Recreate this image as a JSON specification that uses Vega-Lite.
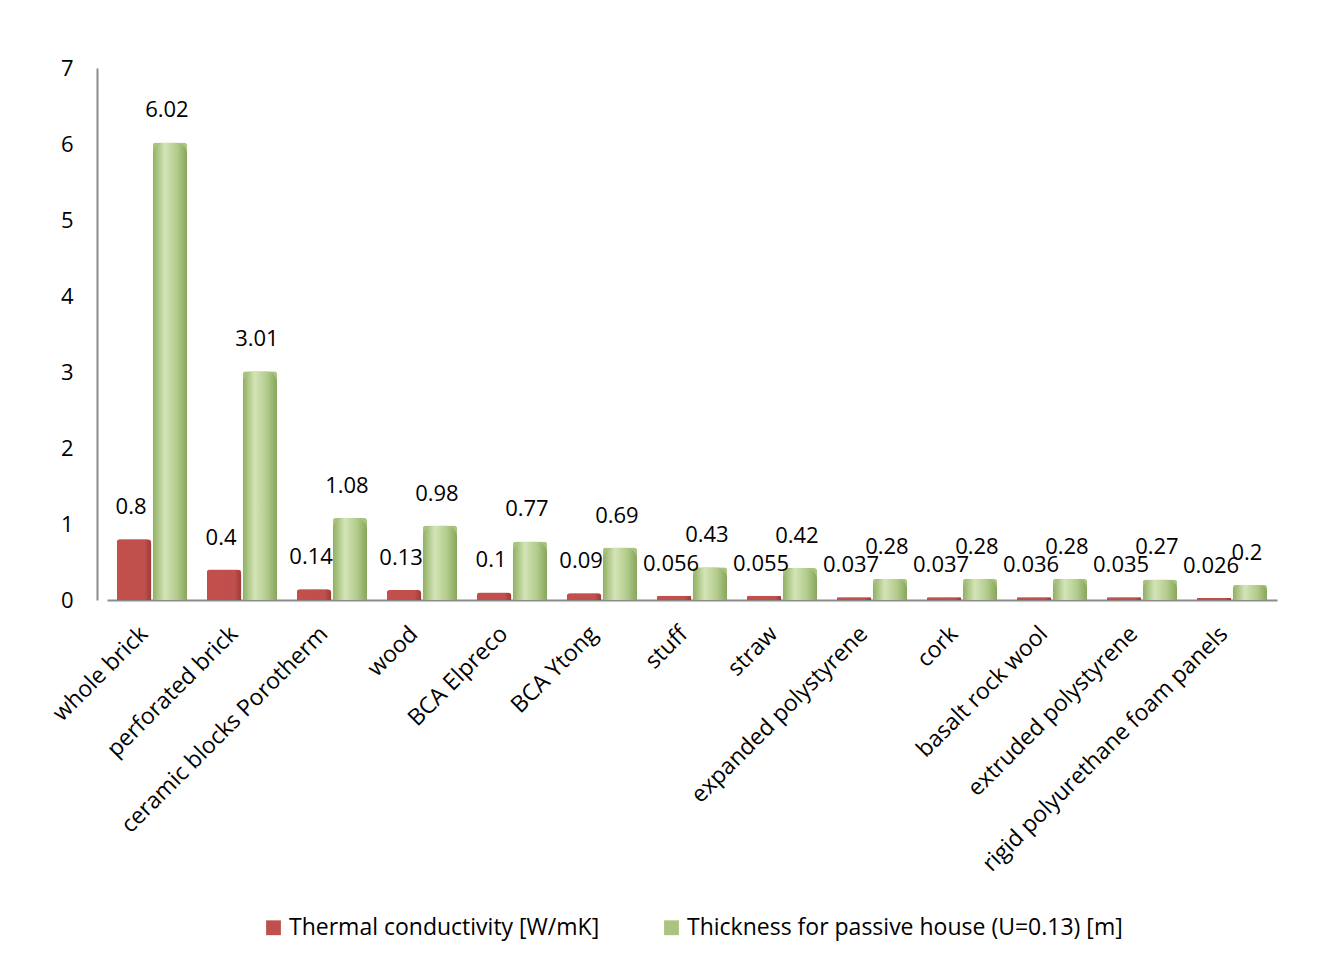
{
  "$schema": "https://vega.github.io/schema/vega-lite/v6.json",
  "width": 1170,
  "height": 532,
  "autosize": {"type": "none"},
  "padding": {"left": 107, "top": 68, "right": 62, "bottom": 362},
  "background": "white",
  "config": {
    "view": {"stroke": null},
    "font": "Open Sans",
    "axis": {"labelFont": "Open Sans", "labelColor": "#000000", "labelFontSize": 22, "grid": false, "ticks": false, "domainColor": "#8c8c8c", "domainWidth": 2, "labelLimit": 0},
    "legend": {"labelFont": "Open Sans", "labelFontSize": 23, "labelColor": "#000000", "labelLimit": 0, "layout": {"bottom": {"anchor": "middle"}}}
  },
  "data": {
    "values": [
      {"material": "whole brick", "series": "Thermal conductivity [W/mK]", "value": 0.8, "label": "0.8"},
      {"material": "whole brick", "series": "Thickness for passive house (U=0.13) [m]", "value": 6.02, "label": "6.02"},
      {"material": "perforated brick", "series": "Thermal conductivity [W/mK]", "value": 0.4, "label": "0.4"},
      {"material": "perforated brick", "series": "Thickness for passive house (U=0.13) [m]", "value": 3.01, "label": "3.01"},
      {"material": "ceramic blocks Porotherm", "series": "Thermal conductivity [W/mK]", "value": 0.14, "label": "0.14"},
      {"material": "ceramic blocks Porotherm", "series": "Thickness for passive house (U=0.13) [m]", "value": 1.08, "label": "1.08"},
      {"material": "wood", "series": "Thermal conductivity [W/mK]", "value": 0.13, "label": "0.13"},
      {"material": "wood", "series": "Thickness for passive house (U=0.13) [m]", "value": 0.98, "label": "0.98"},
      {"material": "BCA Elpreco", "series": "Thermal conductivity [W/mK]", "value": 0.1, "label": "0.1"},
      {"material": "BCA Elpreco", "series": "Thickness for passive house (U=0.13) [m]", "value": 0.77, "label": "0.77"},
      {"material": "BCA Ytong", "series": "Thermal conductivity [W/mK]", "value": 0.09, "label": "0.09"},
      {"material": "BCA Ytong", "series": "Thickness for passive house (U=0.13) [m]", "value": 0.69, "label": "0.69"},
      {"material": "stuff", "series": "Thermal conductivity [W/mK]", "value": 0.056, "label": "0.056"},
      {"material": "stuff", "series": "Thickness for passive house (U=0.13) [m]", "value": 0.43, "label": "0.43"},
      {"material": "straw", "series": "Thermal conductivity [W/mK]", "value": 0.055, "label": "0.055"},
      {"material": "straw", "series": "Thickness for passive house (U=0.13) [m]", "value": 0.42, "label": "0.42"},
      {"material": "expanded polystyrene", "series": "Thermal conductivity [W/mK]", "value": 0.037, "label": "0.037"},
      {"material": "expanded polystyrene", "series": "Thickness for passive house (U=0.13) [m]", "value": 0.28, "label": "0.28"},
      {"material": "cork", "series": "Thermal conductivity [W/mK]", "value": 0.037, "label": "0.037"},
      {"material": "cork", "series": "Thickness for passive house (U=0.13) [m]", "value": 0.28, "label": "0.28"},
      {"material": "basalt rock wool", "series": "Thermal conductivity [W/mK]", "value": 0.036, "label": "0.036"},
      {"material": "basalt rock wool", "series": "Thickness for passive house (U=0.13) [m]", "value": 0.28, "label": "0.28"},
      {"material": "extruded polystyrene", "series": "Thermal conductivity [W/mK]", "value": 0.035, "label": "0.035"},
      {"material": "extruded polystyrene", "series": "Thickness for passive house (U=0.13) [m]", "value": 0.27, "label": "0.27"},
      {"material": "rigid polyurethane foam panels", "series": "Thermal conductivity [W/mK]", "value": 0.026, "label": "0.026"},
      {"material": "rigid polyurethane foam panels", "series": "Thickness for passive house (U=0.13) [m]", "value": 0.2, "label": "0.2"}
    ]
  },
  "encoding": {
    "x": {
      "field": "material", "type": "nominal", "sort": null,
      "scale": {"paddingInner": 0.22, "paddingOuter": 0.11},
      "axis": {"title": null, "labelAngle": -45, "labelAlign": "right", "labelBaseline": "middle", "labelPadding": 30, "labelFontSize": 23, "labelOffset": -8}
    },
    "xOffset": {"field": "series", "type": "nominal", "scale": {"paddingInner": 0.04}},
    "y": {
      "field": "value", "type": "quantitative",
      "scale": {"domain": [0, 7], "nice": false},
      "axis": {"title": null, "values": [0, 1, 2, 3, 4, 5, 6, 7], "offset": 10, "labelPadding": 24, "format": "d"}
    }
  },
  "layer": [
    {
      "mark": {"type": "bar", "cornerRadiusTopLeft": 3, "cornerRadiusTopRight": 3},
      "encoding": {
        "color": {
          "field": "series", "type": "nominal", "sort": null,
          "scale": {"range": ["#c0504d", "#a9c47f"]},
          "legend": {"title": null, "orient": "bottom", "direction": "horizontal", "symbolType": "square", "symbolSize": 220, "symbolStrokeWidth": 0, "columnPadding": 60, "offset": 40}
        }
      }
    },
    {
      "transform": [{"filter": "datum.series != 'Thermal conductivity [W/mK]'"}],
      "mark": {
        "type": "bar", "cornerRadiusTopLeft": 12, "cornerRadiusTopRight": 12,
        "color": {"gradient": "linear", "x1": 0, "x2": 1, "y1": 0, "y2": 0,
          "stops": [
            {"offset": 0, "color": "#8fae62"},
            {"offset": 0.35, "color": "#d3e4b6"},
            {"offset": 0.7, "color": "#b3cc8c"},
            {"offset": 1, "color": "#86a55a"}
          ]}
      }
    },
    {
      "transform": [{"filter": "datum.series == 'Thermal conductivity [W/mK]'"}],
      "mark": {
        "type": "bar", "cornerRadiusTopLeft": 3, "cornerRadiusTopRight": 6,
        "color": {"gradient": "linear", "x1": 0, "x2": 1, "y1": 0, "y2": 0,
          "stops": [
            {"offset": 0, "color": "#c24f4b"},
            {"offset": 0.8, "color": "#c0504d"},
            {"offset": 1, "color": "#9c3a37"}
          ]}
      }
    },
    {
      "mark": {"type": "text", "baseline": "middle", "align": "center", "dy": -32, "dx": -3, "fontSize": 22, "font": "Open Sans", "color": "#000000"},
      "encoding": {"text": {"field": "label", "type": "nominal"}}
    }
  ]
}
